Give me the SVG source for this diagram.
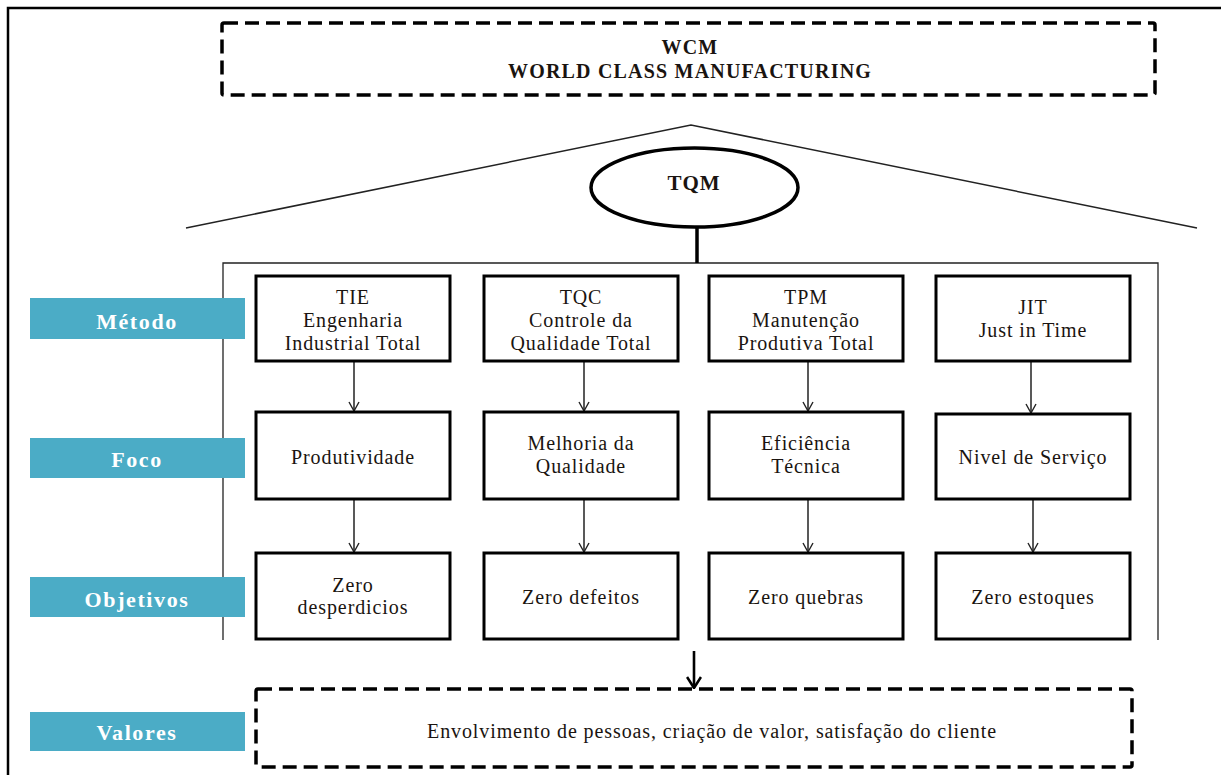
<svg xmlns="http://www.w3.org/2000/svg" width="1221" height="775" viewBox="0 0 1221 775">
<defs>
<style>
.t{font-family:"Liberation Serif","Times New Roman",serif;font-size:20px;fill:#1a1410;text-anchor:middle;letter-spacing:0.9px}
.b{font-weight:bold}
.lbl{font-family:"Liberation Serif","Times New Roman",serif;font-size:22px;font-weight:bold;fill:#fff;text-anchor:middle;letter-spacing:1.6px}
.box{fill:#fff;stroke:#000;stroke-width:3}
.dash{fill:#fff;stroke:#000;stroke-width:3.5;stroke-dasharray:14 7}
.bar{fill:#4BACC6}
.thin{fill:none;stroke:#222;stroke-width:1.3}
.arr{fill:none;stroke:#222;stroke-width:1.5}
</style>
<marker id="ah" markerWidth="12" markerHeight="12" refX="11" refY="6" orient="auto" markerUnits="userSpaceOnUse" viewBox="0 0 12 12">
<path d="M2,1 L11,6 L2,11" fill="none" stroke="#222" stroke-width="1.4"/>
</marker>
<marker id="ah2" markerWidth="16" markerHeight="16" refX="15" refY="8" orient="auto" markerUnits="userSpaceOnUse" viewBox="0 0 16 16">
<path d="M4,1 L15,8 L4,15" fill="none" stroke="#000" stroke-width="2.6"/>
</marker>
</defs>
<rect width="1221" height="775" fill="#fff"/>
<rect x="8" y="8" width="1230" height="790" fill="none" stroke="#000" stroke-width="2.5"/>

<g id="wcm">
<rect class="dash" x="222" y="23" width="933" height="72" rx="2"/>
<text class="t b" x="690" y="54" style="font-size:20px;letter-spacing:1.2px">WCM</text>
<text class="t b" x="690" y="78" style="font-size:20px;letter-spacing:1.2px">WORLD CLASS MANUFACTURING</text>
</g>

<g id="roof">
<polyline class="thin" points="186,228 691,125 1197,228" style="stroke-width:1.5"/>
</g>

<g id="tqm">
<ellipse cx="694.5" cy="187.5" rx="103.5" ry="39.5" fill="#fff" stroke="#000" stroke-width="3.5"/>
<text class="t b" x="694" y="190" style="font-size:21px">TQM</text>
</g>

<g id="frame">
<polyline class="thin" points="223,640 223,263 1158,263 1158,640"/>
</g>

<g id="labels">
<g id="lbl-metodo"><rect class="bar" x="30" y="298" width="215" height="41"/><text class="lbl" x="137" y="329">Método</text></g>
<g id="lbl-foco"><rect class="bar" x="30" y="438" width="215" height="40"/><text class="lbl" x="137" y="467">Foco</text></g>
<g id="lbl-objetivos"><rect class="bar" x="30" y="577" width="215" height="40"/><text class="lbl" x="137" y="607">Objetivos</text></g>
<g id="lbl-valores"><rect class="bar" x="30" y="712" width="215" height="39"/><text class="lbl" x="137" y="740">Valores</text></g>
</g>

<g id="connectors">
<line x1="697" y1="227" x2="697" y2="263" style="stroke:#000;stroke-width:3.5"/>
<line class="arr" x1="354" y1="361" x2="354" y2="411" marker-end="url(#ah)"/>
<line class="arr" x1="584" y1="361" x2="584" y2="411" marker-end="url(#ah)"/>
<line class="arr" x1="808" y1="361" x2="808" y2="411" marker-end="url(#ah)"/>
<line class="arr" x1="1031" y1="361" x2="1031" y2="413" marker-end="url(#ah)"/>
<line class="arr" x1="354" y1="499" x2="354" y2="552" marker-end="url(#ah)"/>
<line class="arr" x1="584" y1="499" x2="584" y2="552" marker-end="url(#ah)"/>
<line class="arr" x1="808" y1="499" x2="808" y2="552" marker-end="url(#ah)"/>
<line class="arr" x1="1033" y1="499" x2="1033" y2="552" marker-end="url(#ah)"/>
<line x1="694" y1="651" x2="694" y2="688" style="stroke:#000;stroke-width:2.6" marker-end="url(#ah2)"/>
</g>

<g id="tie">
<rect class="box" x="256" y="276" width="194" height="85"/>
<text class="t" x="353" y="304">TIE</text>
<text class="t" x="353" y="327">Engenharia</text>
<text class="t" x="353" y="350">Industrial Total</text>
</g>
<g id="tqc">
<rect class="box" x="484" y="276" width="194" height="85"/>
<text class="t" x="581" y="304">TQC</text>
<text class="t" x="581" y="327">Controle da</text>
<text class="t" x="581" y="350">Qualidade Total</text>
</g>
<g id="tpm">
<rect class="box" x="709" y="276" width="194" height="85"/>
<text class="t" x="806" y="304">TPM</text>
<text class="t" x="806" y="327">Manutenção</text>
<text class="t" x="806" y="350">Produtiva Total</text>
</g>
<g id="jit">
<rect class="box" x="936" y="276" width="194" height="85"/>
<text class="t" x="1033" y="314">JIT</text>
<text class="t" x="1033" y="337">Just in Time</text>
</g>

<g id="produtividade">
<rect class="box" x="256" y="412" width="194" height="87"/>
<text class="t" x="353" y="464">Produtividade</text>
</g>
<g id="melhoria">
<rect class="box" x="484" y="412" width="194" height="87"/>
<text class="t" x="581" y="450">Melhoria da</text>
<text class="t" x="581" y="473">Qualidade</text>
</g>
<g id="eficiencia">
<rect class="box" x="709" y="412" width="194" height="87"/>
<text class="t" x="806" y="450">Eficiência</text>
<text class="t" x="806" y="473">Técnica</text>
</g>
<g id="nivel">
<rect class="box" x="936" y="414" width="194" height="85"/>
<text class="t" x="1033" y="464">Nivel de Serviço</text>
</g>

<g id="zero-desperdicios">
<rect class="box" x="256" y="553" width="194" height="86"/>
<text class="t" x="353" y="592">Zero</text>
<text class="t" x="353" y="614">desperdicios</text>
</g>
<g id="zero-defeitos">
<rect class="box" x="484" y="553" width="194" height="86"/>
<text class="t" x="581" y="604">Zero defeitos</text>
</g>
<g id="zero-quebras">
<rect class="box" x="709" y="553" width="194" height="86"/>
<text class="t" x="806" y="604">Zero quebras</text>
</g>
<g id="zero-estoques">
<rect class="box" x="936" y="553" width="194" height="86"/>
<text class="t" x="1033" y="604">Zero estoques</text>
</g>

<g id="valores">
<rect class="dash" x="256" y="689" width="876" height="78" rx="2"/>
<text class="t" x="712" y="738">Envolvimento de pessoas, criação de valor, satisfação do cliente</text>
</g>
</svg>
